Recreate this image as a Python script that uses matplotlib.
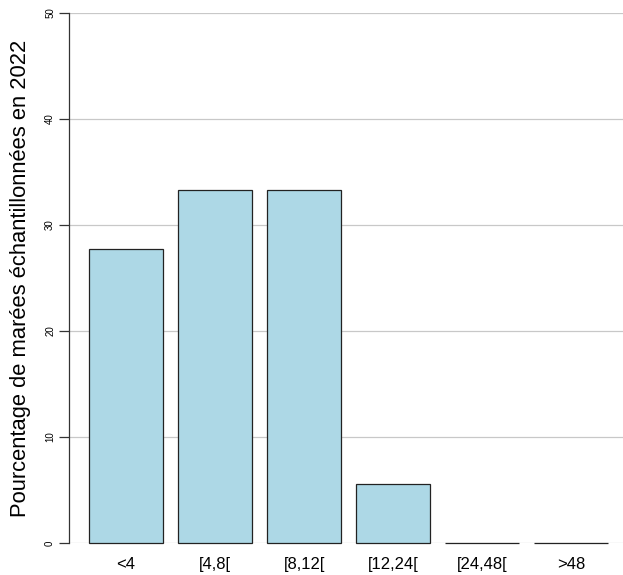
import numpy as np
import matplotlib.pyplot as plt

plt.rcParams['font.family'] = ['Liberation Sans', 'DejaVu Sans']

# classes de durée et pourcentages
classes = ["<4", "[4,8[", "[8,12[", "[12,24[", "[24,48[", ">48"]
pourcentages = [27.78, 33.33, 33.33, 5.56, 0.0, 0.0]
yticks = [0, 10, 20, 30, 40, 50]

fig = plt.figure(figsize=(6.23, 5.75), dpi=100)
ax = fig.add_axes([69/623, 32/575, 554/623, 530/575])

x = 0.7 + 1.2*np.arange(len(classes))   # barplot R, space=0.2
for y in yticks:
    ax.axhline(y, color='#c8c8c8', lw=0.9, zorder=0)
ax.bar(x, pourcentages, width=1.0, color='lightblue', edgecolor='#222222',
       linewidth=0.9, zorder=2, clip_on=False)

ax.set_xlim(-0.07, 7.40)
ax.set_ylim(0, 50)
for s in ['top', 'right', 'bottom']:
    ax.spines[s].set_visible(False)
ax.spines['left'].set_linewidth(0.9)
ax.spines['left'].set_color('#333333')

ax.set_yticks(yticks)
ax.set_yticklabels([str(v) for v in yticks], rotation=90, va='center', fontsize=7)
ax.tick_params(axis='y', length=7, width=0.9, color='#333333', pad=3)
ax.set_xticks(x)
ax.set_xticklabels(classes, fontsize=12)
ax.tick_params(axis='x', length=0, pad=10)
ax.set_ylabel("Pourcentage de marées échantillonnées en 2022", fontsize=15.8, labelpad=10)

fig.savefig("out.png", dpi=100)
